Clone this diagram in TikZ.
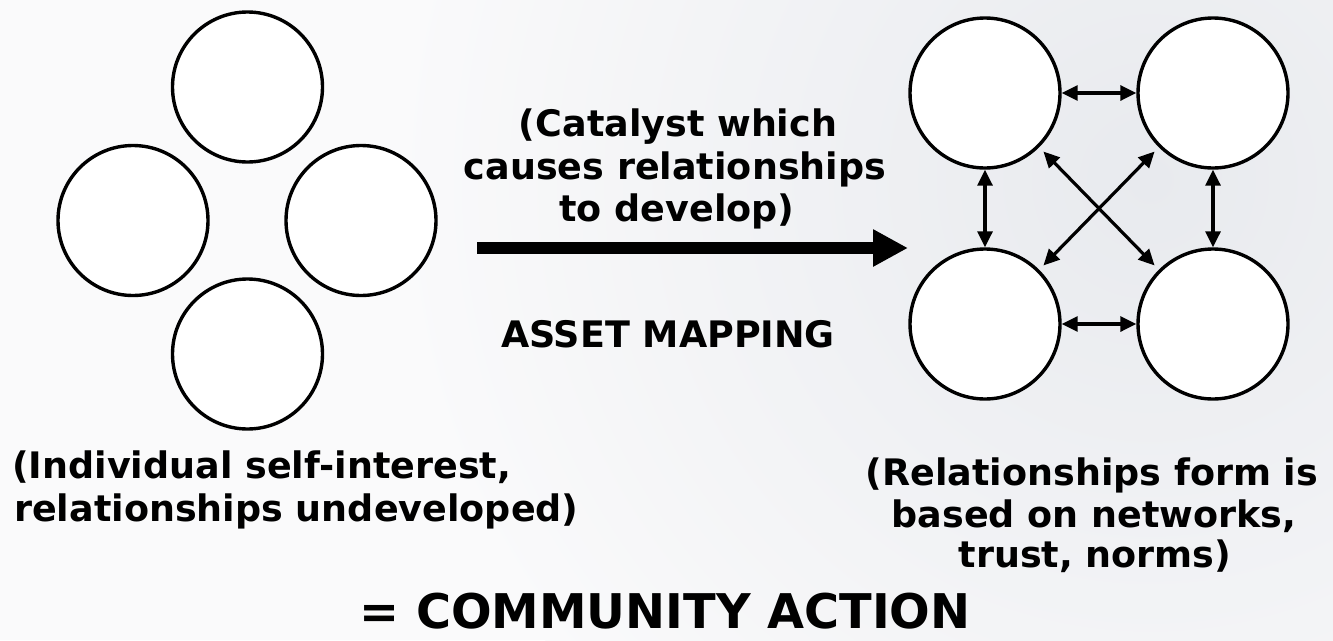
\documentclass[tikz,border=0pt]{standalone}
\usepackage{fontspec}
\setmainfont{DejaVu Sans}
\usetikzlibrary{arrows.meta}
\definecolor{bggray}{RGB}{232,234,238}
\definecolor{bgwhite}{RGB}{250,250,251}
\tikzset{
  ring/.style={circle, draw=black, fill=white, line width=3.4pt, minimum size=150pt, inner sep=0pt},
  lab/.style={anchor=base, inner sep=0pt, font=\bfseries\fontsize{36.5}{43}\selectfont},
  labw/.style={lab, anchor=base west},
  biglab/.style={anchor=base, inner sep=0pt, font=\bfseries\fontsize{47.8}{56}\selectfont},
  link/.style={line width=3.2pt, {Triangle[length=16pt,width=15pt]}-{Triangle[length=16pt,width=15pt]}},
  bigarrow/.style={line width=12pt, -{Triangle[length=35pt,width=35pt]}}
}
\begin{document}
\begin{tikzpicture}[x=1pt,y=-1pt]
\useasboundingbox (0,0) rectangle (1333,640);
\fill[bgwhite] (0,0) rectangle (1333,640);
\begin{scope}
\clip (0,0) rectangle (1333,640);
\shade[inner color=bggray, outer color=bgwhite] (1150,180) circle (760);
\end{scope}
% left cluster
\node[ring] (lt) at (247.5,87) {};
\node[ring] (ll) at (133,220.5) {};
\node[ring] (lr) at (361,220.5) {};
\node[ring] (lb) at (247.5,354) {};
% right cluster
\node[ring] (tl) at (985,93) {};
\node[ring] (tr) at (1213,93) {};
\node[ring] (bl) at (985,324) {};
\node[ring] (br) at (1213,324) {};
\draw[link] (tl.east) -- (tr.west);
\draw[link] (bl.east) -- (br.west);
\draw[link] (tl.south) -- (bl.north);
\draw[link] (tr.south) -- (br.north);
\draw[link, shorten <=6pt, shorten >=6pt] (tl.-45) -- (br.135);
\draw[link, shorten <=6pt, shorten >=6pt] (tr.-135) -- (bl.45);
% big arrow
\coordinate (as) at (477,248);
\coordinate (ae) at (908,248);
\draw[bigarrow] (as) -- (ae);
% texts
\node[lab] (c1) at (678,136) {(Catalyst which};
\node[lab] (c2) at (675,179) {causes relationships};
\node[lab] (c3) at (677,221) {to develop)};
\node[lab] (am) at (668,347) {ASSET MAPPING};
\node[labw] (i1) at (12,478) {(Individual self-interest,};
\node[labw] (i2) at (14,521) {relationships undeveloped)};
\node[lab] (r1) at (1092,485) {(Relationships form is};
\node[lab] (r2) at (1094,527) {based on networks,};
\node[lab] (r3) at (1095,567) {trust, norms)};
\node[biglab] (ca) at (665,628) {= COMMUNITY ACTION};
\end{tikzpicture}
\end{document}
